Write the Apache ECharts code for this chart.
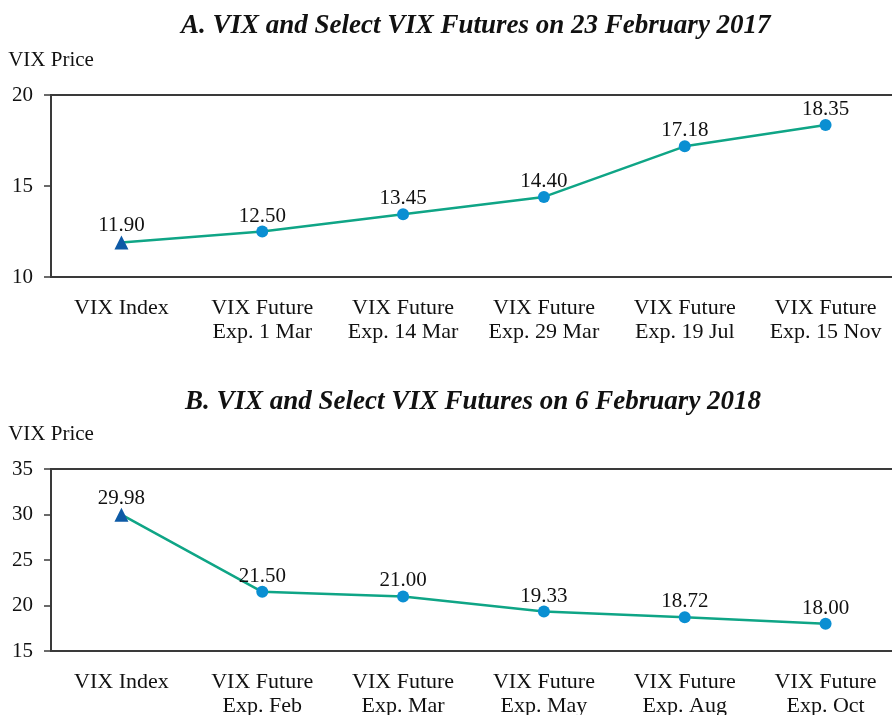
<!DOCTYPE html>
<html>
<head>
<meta charset="utf-8">
<script src="https://cdn.jsdelivr.net/npm/echarts@6/dist/echarts.min.js"></script>
<style>
  html, body { margin: 0; padding: 0; background: #fff; }
  #chart { width: 892px; height: 715px; }
</style>
</head>
<body>
<div id="chart"></div>
<script>
// panel A: 23 Feb 2017
var titleA = 'A. VIX and Select VIX Futures on 23 February 2017';
var catsA = ['VIX Index', 'VIX Future\nExp. 1 Mar', 'VIX Future\nExp. 14 Mar', 'VIX Future\nExp. 29 Mar', 'VIX Future\nExp. 19 Jul', 'VIX Future\nExp. 15 Nov'];
var valsA = [11.90, 12.50, 13.45, 14.40, 17.18, 18.35];

// panel B: 6 Feb 2018
var titleB = 'B. VIX and Select VIX Futures on 6 February 2018';
var catsB = ['VIX Index', 'VIX Future\nExp. Feb', 'VIX Future\nExp. Mar', 'VIX Future\nExp. May', 'VIX Future\nExp. Aug', 'VIX Future\nExp. Oct'];
var valsB = [29.98, 21.50, 21.00, 19.33, 18.72, 18.00];

var FONT = 'Liberation Serif';
var LINE = '#0fa586';
var DOT = '#0a8fd2';
var TRI = '#0d5aa6';
var AX = '#3a3a3a';

function points(vals) {
    return vals.map(function (v, i) {
        if (i === 0) {
            return { value: v, symbol: 'triangle', symbolSize: 14, itemStyle: { color: TRI } };
        }
        return { value: v, symbol: 'circle', symbolSize: 12, itemStyle: { color: DOT } };
    });
}

function xAxis(idx, cats) {
    return {
        type: 'category', gridIndex: idx, data: cats,
        axisLine: { lineStyle: { color: AX, width: 2 } },
        axisTick: { inside: true, length: 8, alignWithLabel: true, lineStyle: { color: AX, width: 1.5 } },
        axisLabel: { color: '#111', fontFamily: FONT, fontSize: 22, lineHeight: 24, margin: 19, interval: 0 }
    };
}

function yAxis(idx, min, max) {
    return {
        type: 'value', gridIndex: idx, min: min, max: max, interval: 5,
        name: 'VIX Price', nameLocation: 'end', nameGap: 24,
        nameTextStyle: { color: '#111', fontFamily: FONT, fontSize: 21, align: 'center' },
        splitLine: { show: false },
        axisLine: { show: true, lineStyle: { color: AX, width: 2 } },
        axisTick: { show: true, length: 7, lineStyle: { color: AX, width: 1.5 } },
        axisLabel: { color: '#111', fontFamily: FONT, fontSize: 21, margin: 18 }
    };
}

function series(idx, vals) {
    return {
        type: 'line', xAxisIndex: idx, yAxisIndex: idx,
        data: points(vals),
        lineStyle: { color: LINE, width: 2.5 },
        label: {
            show: true, position: 'top', distance: -1,
            color: '#111', fontFamily: FONT, fontSize: 21,
            formatter: function (p) { return p.value.toFixed(2); }
        },
        z: 3
    };
}

var titleStyle = { fontFamily: FONT, fontSize: 27, fontStyle: 'italic', fontWeight: 'bold', color: '#111' };

var myChart = echarts.init(document.getElementById('chart'));
var option = {
    animation: false,
    backgroundColor: '#fff',
    title: [
        { text: titleA, left: 176, top: 8, textStyle: titleStyle },
        { text: titleB, left: 180, top: 384, textStyle: titleStyle }
    ],
    grid: [
        { left: 51, right: -4, top: 95, height: 182, show: true, borderColor: AX, borderWidth: 2, backgroundColor: 'transparent', outerBoundsMode: 'none' },
        { left: 51, right: -4, top: 469, height: 182, show: true, borderColor: AX, borderWidth: 2, backgroundColor: 'transparent', outerBoundsMode: 'none' }
    ],
    xAxis: [xAxis(0, catsA), xAxis(1, catsB)],
    yAxis: [yAxis(0, 10, 20), yAxis(1, 15, 35)],
    series: [series(0, valsA), series(1, valsB)]
};
myChart.setOption(option);
</script>
</body>
</html>
